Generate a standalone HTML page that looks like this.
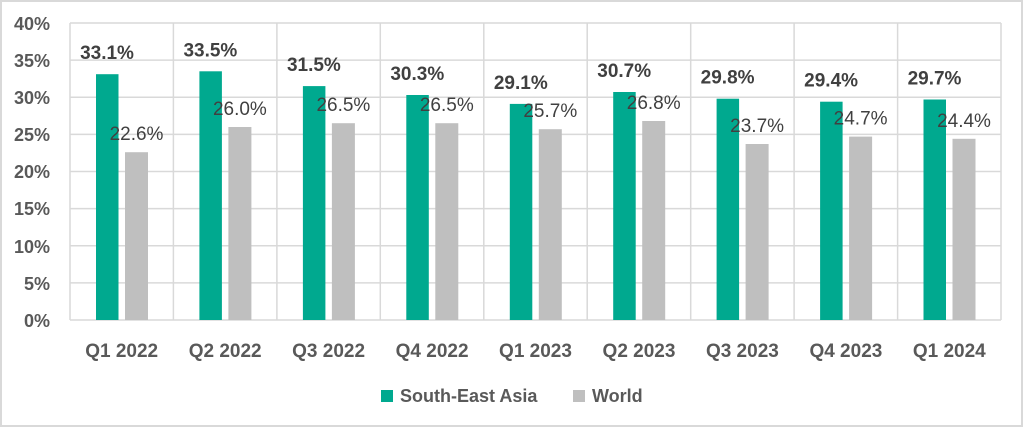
<!DOCTYPE html>
<html><head><meta charset="utf-8"><style>
html,body{margin:0;padding:0;background:#fff;}
svg{display:block;font-family:"Liberation Sans",sans-serif;}
</style></head><body>
<svg width="1024" height="428" viewBox="0 0 1024 428" xmlns="http://www.w3.org/2000/svg">
<rect x="1" y="1" width="1021" height="425" fill="#fff" stroke="#d9d9d9" stroke-width="2"/>
<g stroke="#d9d9d9" stroke-width="1.5">
<line x1="70" y1="23" x2="1001" y2="23"/>
<line x1="70" y1="60.1" x2="1001" y2="60.1"/>
<line x1="70" y1="97.3" x2="1001" y2="97.3"/>
<line x1="70" y1="134.4" x2="1001" y2="134.4"/>
<line x1="70" y1="171.5" x2="1001" y2="171.5"/>
<line x1="70" y1="208.6" x2="1001" y2="208.6"/>
<line x1="70" y1="245.8" x2="1001" y2="245.8"/>
<line x1="70" y1="282.9" x2="1001" y2="282.9"/>
<line x1="70" y1="320" x2="1001" y2="320"/>
<line x1="70" y1="23" x2="70" y2="320"/>
<line x1="173.4" y1="23" x2="173.4" y2="320"/>
<line x1="276.9" y1="23" x2="276.9" y2="320"/>
<line x1="380.3" y1="23" x2="380.3" y2="320"/>
<line x1="483.8" y1="23" x2="483.8" y2="320"/>
<line x1="587.2" y1="23" x2="587.2" y2="320"/>
<line x1="690.7" y1="23" x2="690.7" y2="320"/>
<line x1="794.1" y1="23" x2="794.1" y2="320"/>
<line x1="897.6" y1="23" x2="897.6" y2="320"/>
<line x1="1001" y1="23" x2="1001" y2="320"/>
</g>
<g font-size="18" font-weight="bold" fill="#595959" text-anchor="end">
<text x="50" y="30">40%</text><text x="50" y="67">35%</text><text x="50" y="104">30%</text>
<text x="50" y="141">25%</text><text x="50" y="178">20%</text><text x="50" y="215">15%</text>
<text x="50" y="253">10%</text><text x="50" y="290">5%</text><text x="50" y="327">0%</text>
</g>
<g fill="#00a98f">
<rect x="96" y="74.2" width="22.5" height="245.8"/>
<rect x="199.4" y="71.3" width="22.5" height="248.7"/>
<rect x="302.9" y="86.1" width="22.5" height="233.9"/>
<rect x="406.3" y="95" width="22.5" height="225"/>
<rect x="509.8" y="103.9" width="22.5" height="216.1"/>
<rect x="613.2" y="92" width="22.5" height="228"/>
<rect x="716.6" y="98.7" width="22.5" height="221.3"/>
<rect x="820.1" y="101.7" width="22.5" height="218.3"/>
<rect x="923.5" y="99.5" width="22.5" height="220.5"/>
</g>
<g fill="#bfbfbf">
<rect x="125" y="152.2" width="23" height="167.8"/>
<rect x="228.4" y="127" width="23" height="193"/>
<rect x="331.9" y="123.2" width="23" height="196.8"/>
<rect x="435.3" y="123.2" width="23" height="196.8"/>
<rect x="538.8" y="129.2" width="23" height="190.8"/>
<rect x="642.2" y="121" width="23" height="199"/>
<rect x="745.6" y="144" width="23" height="176"/>
<rect x="849.1" y="136.6" width="23" height="183.4"/>
<rect x="952.5" y="138.8" width="23" height="181.2"/>
</g>
<g font-size="19" font-weight="bold" fill="#404040" text-anchor="middle">
<text x="107" y="59.2">33.1%</text>
<text x="210.4" y="56.3">33.5%</text>
<text x="313.9" y="71.1">31.5%</text>
<text x="417.3" y="80">30.3%</text>
<text x="520.8" y="88.9">29.1%</text>
<text x="624.2" y="77">30.7%</text>
<text x="727.6" y="83.7">29.8%</text>
<text x="831.1" y="86.7">29.4%</text>
<text x="934.5" y="84.5">29.7%</text>
</g>
<g font-size="19" fill="#404040" text-anchor="middle">
<text x="136.5" y="140.2">22.6%</text>
<text x="239.9" y="115">26.0%</text>
<text x="343.4" y="111.2">26.5%</text>
<text x="446.8" y="111.2">26.5%</text>
<text x="550.3" y="117.2">25.7%</text>
<text x="653.7" y="109">26.8%</text>
<text x="757.1" y="132">23.7%</text>
<text x="860.6" y="124.6">24.7%</text>
<text x="964" y="126.8">24.4%</text>
</g>
<g font-size="19" font-weight="bold" fill="#595959" text-anchor="middle">
<text x="121.7" y="357">Q1 2022</text><text x="225.2" y="357">Q2 2022</text><text x="328.6" y="357">Q3 2022</text>
<text x="432.1" y="357">Q4 2022</text><text x="535.5" y="357">Q1 2023</text><text x="639" y="357">Q2 2023</text>
<text x="742.4" y="357">Q3 2023</text><text x="845.9" y="357">Q4 2023</text><text x="949.3" y="357">Q1 2024</text>
</g>
<rect x="381" y="390" width="12" height="12" fill="#00a98f"/>
<text x="400" y="402" font-size="18" font-weight="bold" fill="#595959">South-East Asia</text>
<rect x="573" y="390" width="12" height="12" fill="#bfbfbf"/>
<text x="592" y="402" font-size="18" font-weight="bold" fill="#595959">World</text>
</svg>
</body></html>
